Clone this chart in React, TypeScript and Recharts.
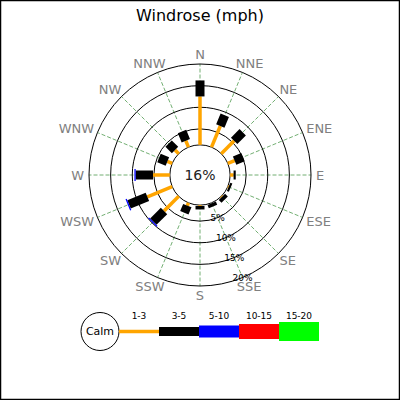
import { PolarAngleAxis, PolarGrid, PolarRadiusAxis, Radar, RadarChart } from "recharts";

// compass directions, clockwise from north
const directions = ["N", "NNE", "NE", "ENE", "E", "ESE", "SE", "SSE", "S", "SSW", "SW", "WSW", "W", "WNW", "NW", "NNW"];

// percent of observations per direction in each speed bin (mph)
const speed1to3 = [11.2, 5.3, 4.2, 1.7, 0.8, 0.2, 0.2, 0.1, 0.2, 0.7, 4.8, 6.2, 3.9, 1.2, 1.2, 1.6];
const speed3to5 = [3.7, 2.7, 2.8, 2.1, 0.5, 0.5, 0.9, 0.8, 0.8, 1.8, 3.5, 4.6, 4.0, 2.1, 2.1, 2.3];
const speed5to10 = [0, 0, 0, 0, 0, 0, 0, 0, 0, 0, 0.3, 0.3, 0.3, 0, 0, 0];
const speed10to15 = [0, 0, 0, 0, 0, 0, 0, 0, 0, 0, 0, 0, 0, 0, 0, 0];
const speed15to20 = [0, 0, 0, 0, 0, 0, 0, 0, 0, 0, 0, 0, 0, 0, 0, 0];

const calmPercent = 16;
const ringTicks = [5, 10, 15, 20];
const binLabels = ["1-3", "3-5", "5-10", "10-15", "15-20"];

// styling
const binColors = ["#FFA500", "#000000", "#0000FF", "#FF0000", "#00FF00"];
const binWidths = [3.5, 9, 12, 15, 19];
const roseBase = 1.3; // bars start at the edge of the calm circle
const font = "DejaVu Sans, sans-serif";
const glyphWidth: Record<string, number> = { N: 0.748, E: 0.632, S: 0.635, W: 0.989 };

const bins = [speed1to3, speed3to5, speed5to10, speed10to15, speed15to20];

const data = directions.map((dir, i) => {
  const row: Record<string, any> = { dir };
  let acc = roseBase;
  bins.forEach((vals, k) => {
    row[`b${k}`] = [acc, acc + vals[i]];
    acc += vals[i];
  });
  return row;
});

function RoseSegments(props: any) {
  const { points = [], baseLinePoints = [], barWidth, barColor, calm } = props;
  const first = baseLinePoints[0];
  return (
    <g>
      {calm && first && (
        <g>
          <circle cx={first.cx} cy={first.cy} r={first.radius} fill="#fff" stroke="#000" strokeWidth={1} />
          <text x={first.cx} y={first.cy} textAnchor="middle" dominantBaseline="central" fontSize={14} fill="#222" fontFamily={font}>
            {calm}
          </text>
        </g>
      )}
      {points.map((p: any, i: number) => {
        const b = baseLinePoints[i];
        if (!b || Math.abs(p.radius - b.radius) < 0.5) return null;
        return <line key={i} x1={b.x} y1={b.y} x2={p.x} y2={p.y} stroke={barColor} strokeWidth={barWidth} />;
      })}
    </g>
  );
}

// label box sits just outside the ring, pushed outward by half its size
const CompassTick = ({ x, y, cx = 200, cy = 175, payload }: any) => {
  const label = String(payload.value);
  const fs = 13;
  const w = label.split("").reduce((s, c) => s + (glyphWidth[c] ?? 0.7), 0) * fs;
  const h = 9.5;
  const a = Math.atan2(cy - y, x - cx);
  return (
    <text
      x={x + (w / 2) * Math.cos(a)}
      y={y - (h / 2) * Math.sin(a)}
      textAnchor="middle"
      dominantBaseline="central"
      fill="#808080"
      fontSize={fs}
      fontFamily={font}
    >
      {label}
    </text>
  );
};

const RingTick = ({ x, y, payload }: any) => (
  <text x={x} y={y} textAnchor="middle" dominantBaseline="central" fill="#000" fontSize={9} fontFamily={font}>
    {`${payload.value}%`}
  </text>
);

function LegendStrip() {
  const x0 = 119;
  const segW = 40;
  const cy = 331.5;
  return (
    <g fontFamily={font}>
      <circle cx={100} cy={cy} r={19} fill="#fff" stroke="#000" strokeWidth={1} />
      <text x={100} y={cy} textAnchor="middle" dominantBaseline="central" fontSize={11}>
        Calm
      </text>
      {binLabels.map((label, k) => (
        <g key={label}>
          <rect x={x0 + k * segW} y={cy - binWidths[k] / 2} width={segW} height={binWidths[k]} fill={binColors[k]} />
          <text x={x0 + k * segW + segW / 2} y={316} textAnchor="middle" dominantBaseline="central" fontSize={9}>
            {label}
          </text>
        </g>
      ))}
    </g>
  );
}

export default function App() {
  return (
    <div style={{ position: "relative", width: 400, height: 400, background: "#fff" }}>
      <style>{"body{margin:0}"}</style>
      <RadarChart
        width={400}
        height={400}
        data={data}
        cx={200}
        cy={175}
        innerRadius={24.5}
        outerRadius={111}
        startAngle={90}
        endAngle={-270}
        margin={{ top: 0, right: 0, bottom: 0, left: 0 }}
      >
        <PolarGrid gridType="circle" stroke="#4f9a4f" strokeWidth={0.8} strokeDasharray="4 2" polarRadius={[]} />
        <PolarGrid gridType="circle" radialLines={false} stroke="#000" strokeWidth={1} />
        <PolarAngleAxis dataKey="dir" tick={<CompassTick />} tickLine={false} axisLine={false} tickSize={5} />
        <PolarRadiusAxis
          type="number"
          angle={-67.5}
          domain={[0, 20]}
          ticks={ringTicks}
          tick={<RingTick />}
          axisLine={false}
          tickLine={false}
        />
        {bins.map((_, k) => (
          <Radar
            key={k}
            dataKey={`b${k}`}
            isAnimationActive={false}
            shape={(p: any) => (
              <RoseSegments {...p} barWidth={binWidths[k]} barColor={binColors[k]} calm={k === 0 ? `${calmPercent}%` : undefined} />
            )}
          />
        ))}
      </RadarChart>
      <svg width={400} height={400} style={{ position: "absolute", left: 0, top: 0, pointerEvents: "none" }}>
        <text x={200} y={15} textAnchor="middle" dominantBaseline="central" fontSize={16} fontFamily={font}>
          Windrose (mph)
        </text>
        <LegendStrip />
        <rect x={0.5} y={0.5} width={399} height={399} fill="none" stroke="#000" strokeWidth={1.5} />
      </svg>
    </div>
  );
}
